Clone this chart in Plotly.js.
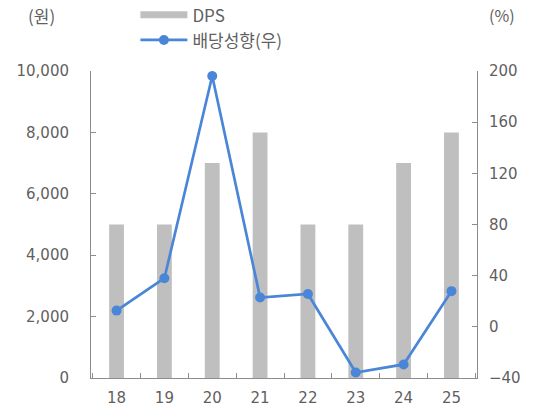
<!DOCTYPE html>
<html>
<head>
<meta charset="utf-8">
<script src="https://cdn.plot.ly/plotly-3.0.1.min.js"></script>
<style>html,body{margin:0;padding:0;background:#fff;}#chart{width:539px;height:414px;}</style>
</head>
<body>
<div id="chart"></div>
<script>
const categories = ['18','19','20','21','22','23','24','25'];
const dps = [5000, 5000, 7000, 8000, 5000, 5000, 7000, 8000];
const payoutRatio = [12.7, 38.0, 196.1, 22.9, 25.7, -35.7, -29.4, 27.9];
const leftTicks = [0, 2000, 4000, 6000, 8000, 10000];
const leftTickText = ['0', '2,000', '4,000', '6,000', '8,000', '10,000'];
const rightTicks = [-40, 0, 40, 80, 120, 160, 200];
const rightTickText = ['\u221240', '0', '40', '80', '120', '160', '200'];

const FONT = 'DejaVu Sans, Noto Sans CJK KR, sans-serif';
const KFONT = 'Noto Sans CJK KR, DejaVu Sans, sans-serif';
const GRAY_TXT = '#5f5f5f';
const AXIS = '#8c8c8c';
const BAR = '#bfbfbf';
const BLUE = '#4a86d8';

const traces = [
  {
    type: 'bar', x: categories, y: dps, name: 'DPS',
    marker: {color: BAR}, width: 0.31, showlegend: false, yaxis: 'y'
  },
  {
    type: 'scatter', mode: 'lines', x: [null], y: [null], name: 'DPS',
    line: {color: BAR, width: 7}, hoverinfo: 'skip'
  },
  {
    type: 'scatter', mode: 'lines+markers', x: categories, y: payoutRatio,
    name: '배당성향(우)', yaxis: 'y2',
    line: {color: BLUE, width: 2.7}, marker: {color: BLUE, size: 10}
  }
];

const layout = {
  width: 539, height: 414,
  margin: {l: 91, r: 62, t: 71, b: 36, autoexpand: false},
  paper_bgcolor: '#fff', plot_bgcolor: '#fff',
  font: {family: FONT, size: 15, color: GRAY_TXT},
  showlegend: true,
  legend: {
    x: 0.115, y: 1.24, xanchor: 'left', yanchor: 'top',
    orientation: 'v', itemwidth: 47, tracegroupgap: 0,
    font: {family: KFONT, size: 17, color: GRAY_TXT},
    bgcolor: 'rgba(0,0,0,0)'
  },
  xaxis: {
    type: 'category', showline: true, linecolor: AXIS, linewidth: 1,
    ticks: 'inside', tickson: 'boundaries', ticklen: 5, tickcolor: AXIS,
    showgrid: false, zeroline: false, tickfont: {family: FONT, size: 15, color: GRAY_TXT},
    ticklabelstandoff: 6
  },
  yaxis: {
    range: [0, 10000], tickvals: leftTicks, ticktext: leftTickText,
    showline: true, linecolor: AXIS, linewidth: 1,
    ticks: 'inside', ticklen: 5, tickcolor: AXIS, showgrid: false, zeroline: false,
    tickfont: {family: FONT, size: 15, color: GRAY_TXT}, ticklabelstandoff: 18
  },
  yaxis2: {
    range: [-40, 200], tickvals: rightTicks, ticktext: rightTickText,
    overlaying: 'y', side: 'right',
    showline: true, linecolor: AXIS, linewidth: 1,
    ticks: 'inside', ticklen: 5, tickcolor: AXIS, showgrid: false, zeroline: false,
    tickfont: {family: FONT, size: 15, color: GRAY_TXT}, ticklabelstandoff: 8
  },
  annotations: [
    {text: '(원)', xref: 'paper', yref: 'paper', x: -0.128, y: 1.182, xanchor: 'center', yanchor: 'middle', showarrow: false, font: {family: KFONT, size: 17, color: GRAY_TXT}},
    {text: '(%)', xref: 'paper', yref: 'paper', x: 1.025, y: 1.182, xanchor: 'left', yanchor: 'middle', showarrow: false, font: {family: KFONT, size: 16, color: GRAY_TXT}}
  ]
};

Plotly.newPlot('chart', traces, layout, {displayModeBar: false, staticPlot: true});
</script>
</body>
</html>
